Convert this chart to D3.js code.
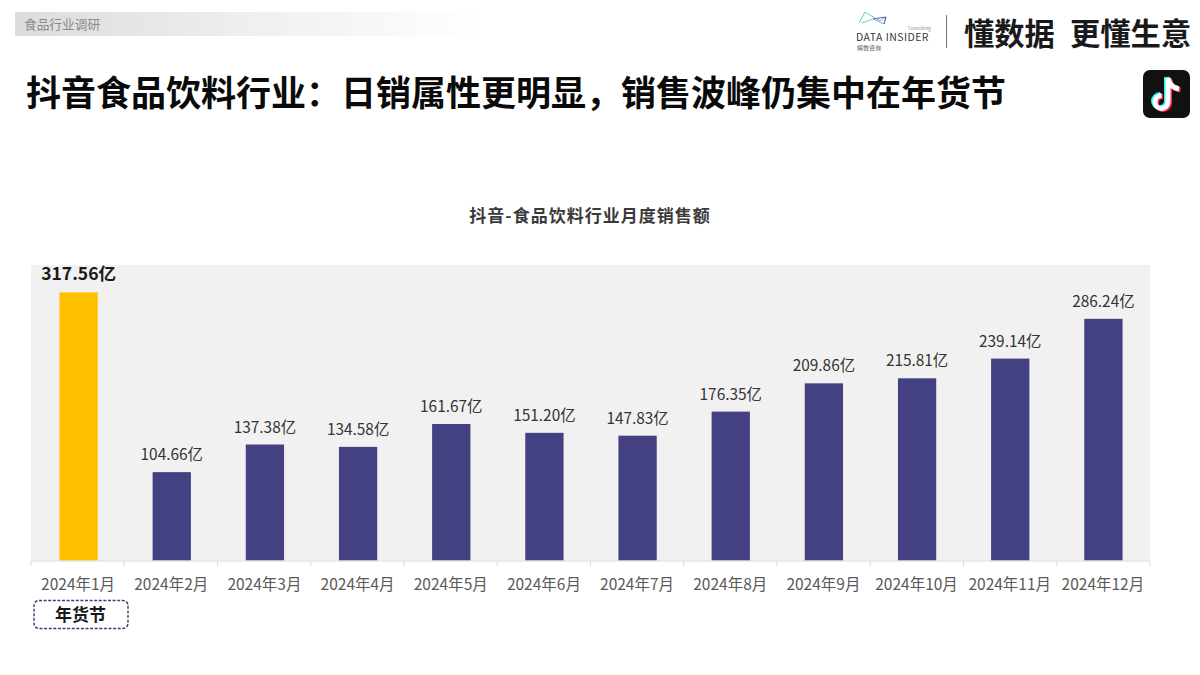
<!DOCTYPE html>
<html><head><meta charset="utf-8">
<script src="https://cdnjs.cloudflare.com/ajax/libs/d3/7.8.5/d3.min.js"></script>
<style>html,body{margin:0;padding:0;background:#fff}svg{display:block}
text{font-family:"Noto Sans CJK SC","Open Sans",sans-serif}</style></head><body>
<svg id="c" width="1200" height="675"></svg>
<script>
const months=["2024年1月","2024年2月","2024年3月","2024年4月","2024年5月","2024年6月","2024年7月","2024年8月","2024年9月","2024年10月","2024年11月","2024年12月"];
const sales=[317.56,104.66,137.38,134.58,161.67,151.20,147.83,176.35,209.86,215.81,239.14,286.24];
const highlightMonth="2024年1月";
const title="抖音食品饮料行业:日销属性更明显,销售波峰仍集中在年货节".replace(":","\uFF1A").replace(",","\uFF0C");
const chartTitle="抖音-食品饮料行业月度销售额";
const tag="食品行业调研";
const sloganA="懂数据";
const sloganB="更懂生意";
const note="年货节";

const svg=d3.select("#c");
const defs=svg.append("defs");
const g=defs.append("linearGradient").attr("id","tagGrad");
g.append("stop").attr("offset","0").attr("stop-color","#dcdcdc");
g.append("stop").attr("offset","0.5").attr("stop-color","#efefef");
g.append("stop").attr("offset","1").attr("stop-color","#ffffff");

// header
svg.append("rect").attr("x",15).attr("y",12).attr("width",470).attr("height",24).attr("fill","url(#tagGrad)");
svg.append("text").attr("x",24).attr("y",29).attr("font-size",12.7).attr("fill","#8a8a8a").text(tag);
svg.append("text").attr("x",26).attr("y",106).attr("font-size",35).attr("font-weight",700).attr("fill","#0a0a0a").text(title);

// logo
const logo=svg.append("g").attr("fill","none").attr("stroke-width",1);
logo.append("path").attr("d","M859 23 L865 12 L880 21 L886 17 L884 24 L873 19 L862 23").attr("stroke","#6fc4cf");
logo.append("path").attr("d","M873 19 L886 17 L884 24").attr("stroke","#6a5aa8");
svg.append("text").attr("x",856).attr("y",41).attr("font-size",10.5).attr("font-family","Open Sans").attr("letter-spacing",0.45).attr("fill","#3a3a3a").text("DATA INSIDER");
svg.append("text").attr("x",908).attr("y",29.5).attr("font-size",4.5).attr("fill","#888").text("Consulting");
svg.append("text").attr("x",857).attr("y",50).attr("font-size",6).attr("fill","#666").text("解数咨询");
svg.append("line").attr("x1",946.5).attr("x2",946.5).attr("y1",15).attr("y2",48).attr("stroke","#777");
svg.append("text").attr("x",964).attr("y",45).attr("font-size",30.3).attr("font-weight",700).attr("fill","#1a1a1a").text(sloganA);
svg.append("text").attr("x",1070).attr("y",45).attr("font-size",30.3).attr("font-weight",700).attr("fill","#1a1a1a").text(sloganB);

// TikTok icon
svg.append("rect").attr("x",1143).attr("y",70).attr("width",47).attr("height",48).attr("rx",7).attr("fill","#111");
const note1="M1168 78 v24 a6.5 6.5 0 1 1 -6.5 -6.5 M1168 78 c1 6 5 10 11 11";
[["#25f4ee",-1.5,-1],["#fe2c55",1.5,1],["#ffffff",0,0]].forEach(([col,dx,dy])=>{
  svg.append("path").attr("d",note1).attr("transform",`translate(${dx},${dy})`).attr("fill","none").attr("stroke",col).attr("stroke-width",5);
});

// chart
svg.append("text").attr("x",590).attr("y",222).attr("text-anchor","middle").attr("font-size",17).attr("letter-spacing",1).attr("font-weight",700).attr("fill","#3a3a3a").text(chartTitle);
const x=d3.scaleBand().domain(months).range([31.5,1150.5]).paddingInner(0.589).paddingOuter(0.3);
const y=d3.scaleLinear().domain([0,350]).range([560.5,265]);
svg.append("rect").attr("x",31).attr("y",y.range()[1]).attr("width",1119).attr("height",y.range()[0]-y.range()[1]).attr("fill","#f1f1f1");

svg.selectAll("rect.bar").data(months).join("rect").attr("class","bar")
 .attr("x",d=>x(d)).attr("width",x.bandwidth())
 .attr("y",(d,i)=>y(sales[i])).attr("height",(d,i)=>y(0)-y(sales[i]))
 .attr("fill",d=>d===highlightMonth?"#ffc000":"#444182");

svg.selectAll("text.val").data(months).join("text").attr("class","val")
 .attr("x",d=>x(d)+x.bandwidth()/2)
 .attr("y",(d,i)=>y(sales[i])-12)
 .attr("text-anchor","middle")
 .attr("font-size",d=>d===highlightMonth?17.5:15.4).attr("font-family",'"Open Sans","Noto Sans CJK SC",sans-serif')
 .attr("font-weight",d=>d===highlightMonth?700:400)
 .attr("fill",d=>d===highlightMonth?"#1a1a1a":"#333")
 .text((d,i)=>sales[i].toFixed(2)+"亿");

// axis with tick separators between categories
const step=1119/months.length;
const axis=svg.append("g");
axis.append("line").attr("x1",31).attr("x2",1150).attr("y1",561).attr("y2",561).attr("stroke","#d9d9d9").attr("stroke-width",1.2);
axis.selectAll("line.t").data(d3.range(months.length+1)).join("line").attr("class","t")
 .attr("x1",i=>31+i*step).attr("x2",i=>31+i*step).attr("y1",561).attr("y2",566).attr("stroke","#d9d9d9");
svg.selectAll("text.m").data(months).join("text").attr("class","m")
 .attr("x",d=>x(d)+x.bandwidth()/2-0.5).attr("y",590).attr("text-anchor","middle")
 .attr("font-size",15.5).attr("font-family",'"Open Sans","Noto Sans CJK SC",sans-serif').attr("fill","#595959").text(d=>d);

// note
svg.append("rect").attr("x",34).attr("y",600.5).attr("width",94).attr("height",28).attr("rx",5).attr("fill","#fff").attr("stroke","#3f3d6e").attr("stroke-width",1.4).attr("stroke-dasharray","3 1.6");
svg.append("text").attr("x",80.5).attr("y",621).attr("text-anchor","middle").attr("font-size",17).attr("font-weight",700).attr("fill","#1a1a1a").text(note);
</script></body></html>
